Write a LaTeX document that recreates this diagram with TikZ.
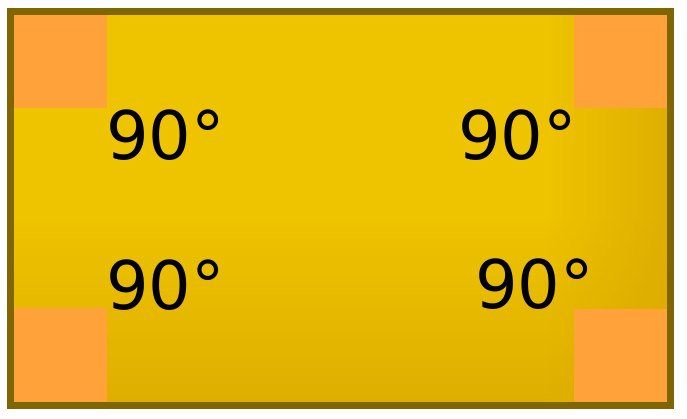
\documentclass[tikz,border=0pt]{standalone}
\usepackage{fontspec}
\setmainfont{DejaVu Sans}
\usetikzlibrary{fadings}
\definecolor{frame}{HTML}{806600}
\definecolor{gold}{HTML}{EEC300}
\definecolor{golddark}{HTML}{DAA800}
\definecolor{orangesq}{HTML}{FFA23A}
\tikzset{
  sq/.style={fill=orangesq, draw=none},
  deg/.style={inner sep=0pt, font=\fontsize{67}{67}\selectfont, text=black}
}
\begin{document}
\begin{tikzpicture}[x=1pt,y=-1pt]
\useasboundingbox (0,0) rectangle (687,418);
\fill[gold] (12,13) rectangle (669,404);
\fill[golddark, fill opacity=0.75, path fading=north] (12,220) rectangle (669,404);
\fill[golddark, fill opacity=0.75, path fading=west] (550,13) rectangle (669,404);
\fill[sq] (14,15) rectangle (107,108);
\fill[sq] (574,15) rectangle (667,108);
\fill[sq] (14,308) rectangle (107,402);
\fill[sq] (574,309) rectangle (667,402);
\node[draw=frame, line width=7pt, minimum width=660pt, minimum height=393.5pt, inner sep=0pt, outer sep=0pt, anchor=north west] (frm) at (10.5,11.5) {};
\node[deg, anchor=base west] (t1) at (106,159) {90°};
\node[deg, anchor=base east] (t2) at (577,159) {90°};
\node[deg, anchor=base west] (t3) at (106,309) {90°};
\node[deg, anchor=base east] (t4) at (594,308) {90°};
\end{tikzpicture}
\end{document}
